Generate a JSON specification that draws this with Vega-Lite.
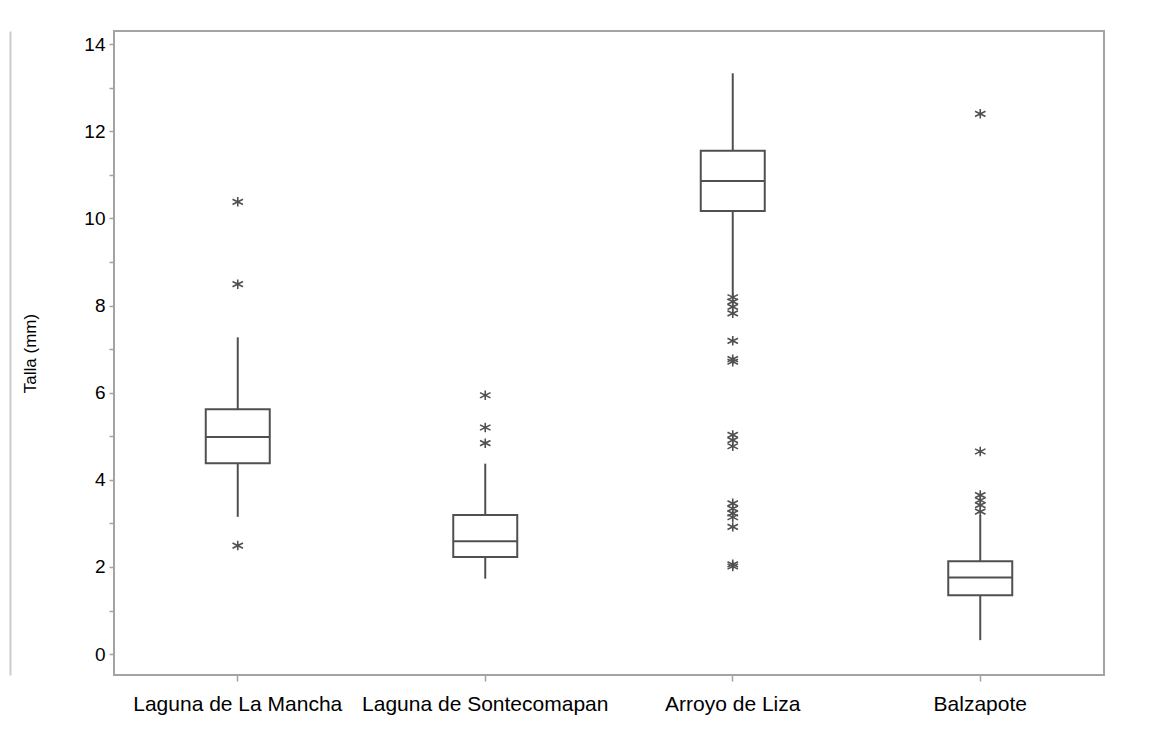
{
  "$schema": "https://vega.github.io/schema/vega-lite/v6.json",
  "autosize": "none",
  "padding": {"left": 114, "top": 31, "right": 47, "bottom": 57},
  "width": 990,
  "height": 644,
  "background": "white",
  "config": {
    "font": "Liberation Sans",
    "view": {"stroke": "#a3a3a3", "strokeWidth": 2},
    "axis": {"grid": false, "labelFont": "Liberation Sans", "titleFont": "Liberation Sans", "labelColor": "#000000", "titleColor": "#000000", "titleFontSize": 17, "titleFontWeight": "normal", "tickColor": "#a3a3a3", "tickWidth": 1.5, "domain": false}
  },
  "resolve": {"axis": {"y": "independent"}},
  "datasets": {
    "boxes": [
      {"site": "Laguna de La Mancha", "lower": 3.15, "q1": 4.38, "median": 4.98, "q3": 5.62, "upper": 7.27},
      {"site": "Laguna de Sontecomapan", "lower": 1.73, "q1": 2.23, "median": 2.59, "q3": 3.19, "upper": 4.37},
      {"site": "Arroyo de Liza", "lower": 8.2, "q1": 10.17, "median": 10.86, "q3": 11.55, "upper": 13.33},
      {"site": "Balzapote", "lower": 0.32, "q1": 1.35, "median": 1.76, "q3": 2.13, "upper": 3.19}
    ],
    "outliers": [
      {"site": "Laguna de La Mancha", "talla": 10.38},
      {"site": "Laguna de La Mancha", "talla": 8.49},
      {"site": "Laguna de La Mancha", "talla": 2.49},
      {"site": "Laguna de Sontecomapan", "talla": 5.94},
      {"site": "Laguna de Sontecomapan", "talla": 5.2},
      {"site": "Laguna de Sontecomapan", "talla": 4.84},
      {"site": "Arroyo de Liza", "talla": 8.19},
      {"site": "Arroyo de Liza", "talla": 8.09},
      {"site": "Arroyo de Liza", "talla": 7.97},
      {"site": "Arroyo de Liza", "talla": 7.82},
      {"site": "Arroyo de Liza", "talla": 7.19},
      {"site": "Arroyo de Liza", "talla": 6.77},
      {"site": "Arroyo de Liza", "talla": 6.71},
      {"site": "Arroyo de Liza", "talla": 5.03},
      {"site": "Arroyo de Liza", "talla": 4.91},
      {"site": "Arroyo de Liza", "talla": 4.77},
      {"site": "Arroyo de Liza", "talla": 3.46},
      {"site": "Arroyo de Liza", "talla": 3.34},
      {"site": "Arroyo de Liza", "talla": 3.23},
      {"site": "Arroyo de Liza", "talla": 3.14},
      {"site": "Arroyo de Liza", "talla": 2.92},
      {"site": "Arroyo de Liza", "talla": 2.06},
      {"site": "Arroyo de Liza", "talla": 2.01},
      {"site": "Balzapote", "talla": 12.4},
      {"site": "Balzapote", "talla": 4.65},
      {"site": "Balzapote", "talla": 3.65},
      {"site": "Balzapote", "talla": 3.53},
      {"site": "Balzapote", "talla": 3.42},
      {"site": "Balzapote", "talla": 3.27}
    ]
  },
  "layer": [
    {
      "data": {"name": "boxes"},
      "mark": {"type": "rule", "color": "#505050", "strokeWidth": 2},
      "encoding": {
        "x": {"field": "site", "type": "nominal", "sort": null, "scale": {"paddingInner": 0, "paddingOuter": 0},
              "axis": {"title": null, "labelAngle": 0, "tickSize": 6, "labelPadding": 12, "labelFontSize": 21, "labelLimit": 300, "tickColor": "#a3a3a3"}},
        "y": {"field": "lower", "type": "quantitative", "scale": {"domain": [-0.48, 14.3], "nice": false, "zero": false},
              "axis": {"title": "Talla (mm)", "values": [0,1,2,3,4,5,6,7,8,9,10,11,12,13,14], "labelExpr": "datum.value % 2 === 0 ? datum.label : ''", "tickSize": 5, "labelPadding": 4, "labelFontSize": 19, "titlePadding": 44}},
        "y2": {"field": "upper"}
      }
    },
    {
      "data": {"name": "boxes"},
      "mark": {"type": "bar", "fill": "white", "stroke": "#505050", "strokeWidth": 2, "size": 64},
      "encoding": {
        "x": {"field": "site", "type": "nominal", "sort": null},
        "y": {"field": "q1", "type": "quantitative", "axis": null},
        "y2": {"field": "q3"}
      }
    },
    {
      "data": {"name": "boxes"},
      "mark": {"type": "tick", "color": "#505050", "thickness": 2, "size": 64, "orient": "horizontal", "opacity": 1},
      "encoding": {
        "x": {"field": "site", "type": "nominal", "sort": null},
        "y": {"field": "median", "type": "quantitative", "axis": null}
      }
    },
    {
      "data": {"name": "outliers"},
      "mark": {"type": "point", "shape": "M0,-0.9L0,0.9M-1,-0.5L1,0.5M-1,0.5L1,-0.5", "filled": false, "stroke": "#505050", "strokeWidth": 1.6, "size": 110, "opacity": 1},
      "encoding": {
        "x": {"field": "site", "type": "nominal", "sort": null},
        "y": {"field": "talla", "type": "quantitative", "axis": {"orient": "left", "offset": 104, "domain": true, "domainColor": "#cccccc", "domainWidth": 2, "ticks": false, "labels": false, "title": null}}
      }
    }
  ]
}
